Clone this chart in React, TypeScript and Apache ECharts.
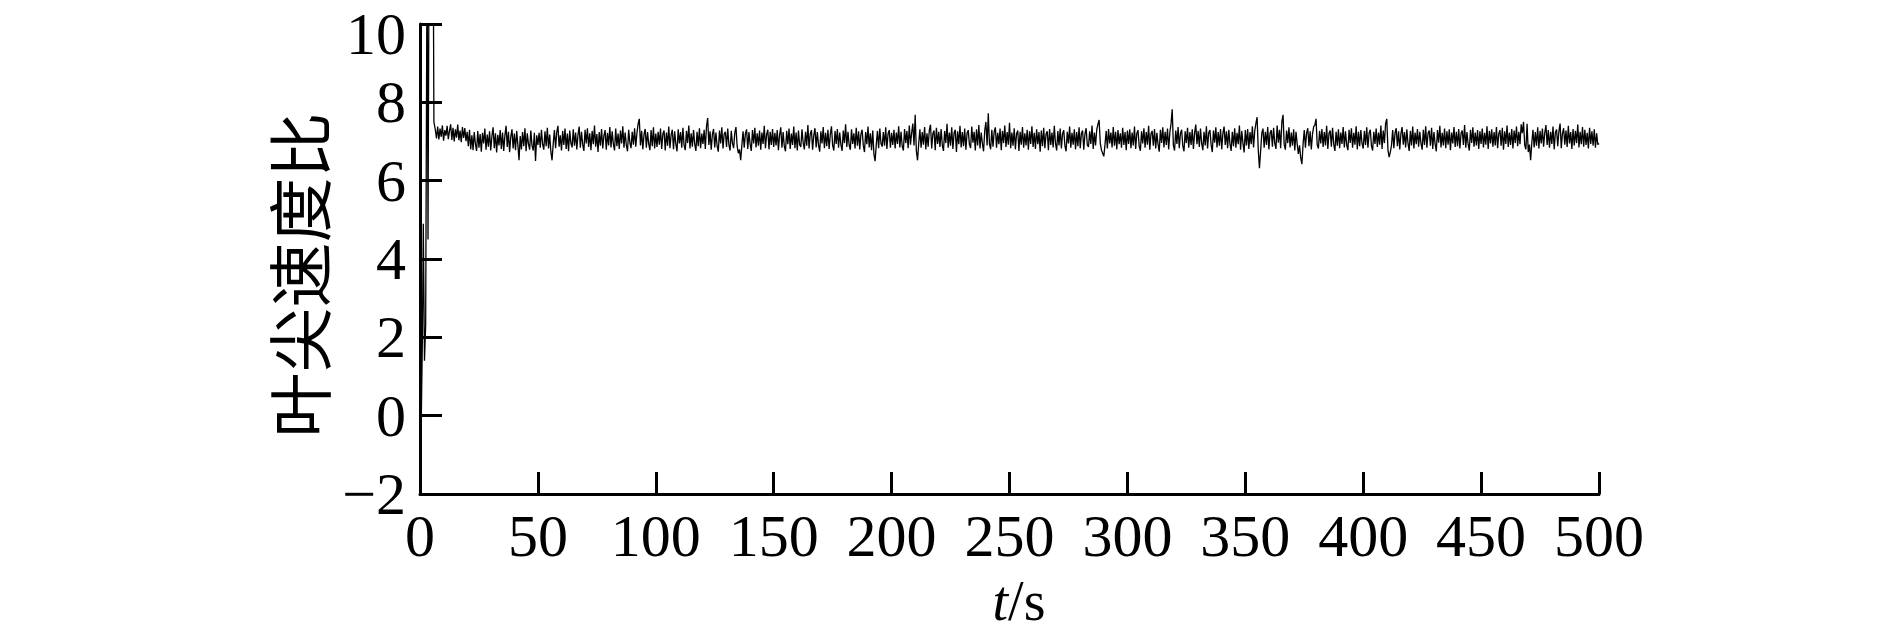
import React, { useEffect, useRef } from "react";
import * as echarts from "echarts";

// x-axis ticks and y-axis ticks
const xTicks = [0, 50, 100, 150, 200, 250, 300, 350, 400, 450, 500];
const yTicks = [-2, 0, 2, 4, 6, 8, 10];

// start-up transient (time in s, tip speed ratio)
const transientT = [0, 0.5, 1.0, 1.4, 1.9, 2.4, 3.0, 3.4, 3.9, 5.6, 5.9];
const transientV = [0.0, -0.3, 1.9, 4.9, 1.4, 2.3, 12.0, 4.5, 13.0, 12.0, 7.5];

// steady part, sampled every 0.5 s starting at 6.5 s
const steadyStart = 6.5;
const steadyStep = 0.5;
const seg0to50 = [
  7.3, 7.08, 7.38, 7.05, 7.33, 7.12, 7.41, 7.02, 7.29, 7.15, 7.4, 7.06, 7.27, 7.44, 7.04, 7.35, 7.0, 7.31, 7.1, 7.43, 7.03, 7.28, 6.98, 7.37, 7.09, 7.34, 7.01,
  7.25, 6.88, 7.3, 6.8, 7.16, 6.78, 7.24, 6.93, 6.76, 7.27, 6.84, 7.19, 6.74, 7.22, 6.95, 7.33, 6.79, 7.18, 6.87, 7.26,
  6.77, 7.14, 7.36, 6.83, 7.21, 6.72, 7.17, 6.9, 7.29, 6.81, 7.23, 6.76, 7.15, 7.4, 6.86, 7.25, 6.73, 7.12, 7.31, 6.82,
  7.2, 6.78, 7.27, 6.92, 6.52, 7.14, 6.8, 7.24, 6.88, 7.34, 6.75, 7.21, 6.94, 6.79, 7.28, 6.9, 6.77, 7.22, 6.5, 7.16,
  6.91,
];
const seg50to100 = [
  7.22, 6.84, 7.3, 6.93, 6.79, 7.26, 6.88, 7.35, 6.82, 7.18, 6.74, 6.52, 6.95, 7.29, 6.83, 7.24, 7.4, 6.87, 7.16, 6.77,
  7.27, 6.91, 7.33, 6.81, 7.2, 6.75, 7.28, 6.96, 6.85, 7.31, 6.89, 7.23, 6.8, 7.17, 7.38, 6.84, 7.25, 6.92, 6.76, 7.3,
  6.95, 7.34, 6.86, 7.21, 6.78, 7.27, 6.93, 7.41, 6.87, 7.19, 6.73, 7.24, 6.89, 7.32, 6.82, 7.15, 7.29, 6.79, 7.22, 6.9,
  7.37, 6.85, 7.26, 6.94, 6.77, 7.33, 6.88, 7.2, 6.81, 7.28, 6.95, 7.39, 6.84, 7.23, 6.91, 6.75, 7.3, 6.97, 6.83, 7.25,
  6.92, 7.34, 6.87, 7.21, 7.45, 7.58, 6.9, 7.27, 6.8, 7.18, 7.32, 6.84, 7.24, 6.94, 6.78, 7.29, 6.88, 7.36, 6.82, 7.2,
];
const seg100to150 = [
  6.86, 7.25, 6.92, 7.33, 6.81, 7.19, 7.28, 6.77, 7.23, 6.89, 7.38, 6.83, 7.17, 7.3, 6.8, 7.26, 6.93, 6.75, 7.31, 6.95,
  7.24, 6.84, 7.35, 6.9, 6.78, 7.27, 6.96, 7.41, 6.82, 7.21, 6.87, 7.29, 6.93, 6.76, 7.25, 6.88, 7.34, 6.83, 7.2, 6.94,
  7.3, 6.81, 7.39, 7.6, 6.91, 7.26, 6.79, 7.18, 7.32, 6.85, 7.23, 6.89, 6.74, 7.28, 6.95, 7.36, 6.82, 7.19, 7.25, 6.86,
  7.33, 6.92, 6.77, 7.27, 6.96, 6.83, 7.22, 7.37, 6.88, 6.7, 6.8, 6.52, 6.9, 7.26, 6.84, 7.2, 7.31, 6.81, 7.24, 6.93,
  6.76, 7.29, 6.95, 7.35, 6.85, 7.21, 6.89, 7.28, 6.79, 7.23, 6.94, 7.4, 6.83, 7.18, 7.3, 6.8, 7.25, 6.91, 7.32, 6.86,
];
const seg150to200 = [
  7.22, 6.9, 7.29, 6.78, 7.17, 7.36, 6.84, 7.24, 6.88, 6.75, 7.27, 6.93, 7.33, 6.81, 7.2, 6.91, 7.38, 6.83, 7.23, 6.77,
  7.28, 6.92, 6.86, 7.31, 6.97, 6.8, 7.25, 6.89, 7.42, 6.82, 7.19, 7.29, 6.79, 7.16, 7.34, 6.85, 7.24, 6.91, 6.74, 7.26,
  6.95, 7.37, 6.83, 7.22, 6.88, 7.3, 6.81, 7.18, 7.39, 6.9, 6.77, 7.27, 6.94, 7.32, 6.84, 7.23, 6.92, 6.76, 7.28, 6.96,
  7.44, 6.86, 7.25, 6.91, 6.79, 7.31, 6.94, 7.21, 6.82, 7.35, 6.89, 7.26, 6.8, 7.19, 7.3, 6.9, 6.73, 7.24, 6.93, 7.38,
  6.85, 7.21, 6.78, 7.28, 6.68, 6.5, 6.92, 7.27, 6.83, 7.33, 6.95, 6.87, 7.24, 6.89, 7.36, 6.81, 7.2, 7.29, 6.84, 7.22,
];
const seg200to250 = [
  6.91, 7.3, 6.82, 7.23, 6.94, 7.39, 6.85, 7.25, 6.88, 6.77, 7.32, 6.96, 7.27, 6.83, 7.41, 6.92, 7.22, 7.46, 6.9, 7.68,
  6.76, 6.52, 6.95, 7.31, 6.84, 7.24, 6.92, 7.37, 6.8, 7.21, 6.87, 7.29, 7.43, 6.82, 7.2, 7.28, 6.78, 7.35, 6.94, 7.25,
  6.86, 7.32, 6.91, 6.76, 7.27, 6.96, 7.45, 6.84, 7.23, 6.89, 7.36, 6.81, 7.22, 7.3, 6.73, 7.26, 6.93, 7.4, 6.85, 7.24,
  6.88, 7.33, 6.79, 7.21, 7.29, 6.92, 6.83, 7.38, 6.97, 7.25, 6.77, 7.31, 6.9, 7.42, 6.82, 7.23, 6.95, 6.75, 7.28, 7.5,
  6.9, 7.72, 6.94, 6.8, 7.3, 6.87, 7.25, 7.36, 6.84, 7.22, 6.93, 7.33, 6.78, 7.27, 6.96, 7.41, 6.86, 7.24, 6.92, 7.48,
];
const seg250to300 = [
  6.83, 7.23, 6.89, 7.34, 6.8, 7.2, 7.28, 6.76, 7.25, 6.92, 7.37, 6.84, 7.21, 6.9, 7.3, 6.79, 7.26, 6.94, 7.39, 6.86,
  7.22, 6.81, 7.31, 6.93, 7.24, 6.74, 7.28, 6.88, 7.35, 6.83, 7.19, 7.26, 6.78, 7.32, 6.91, 7.23, 6.85, 7.4, 6.95, 6.77,
  7.27, 6.9, 7.33, 6.82, 7.2, 7.29, 6.89, 6.75, 7.25, 6.95, 7.38, 6.84, 7.22, 6.92, 7.31, 6.8, 7.24, 6.88, 7.36, 6.83,
  7.21, 7.28, 6.79, 7.19, 7.34, 6.91, 6.86, 7.26, 6.94, 7.41, 6.81, 7.23, 6.9, 7.3, 7.44, 7.55, 6.96, 6.78, 6.7, 6.62,
  6.92, 7.27, 6.82, 7.32, 6.95, 7.23, 6.85, 7.37, 6.89, 7.25, 6.8, 7.29, 6.93, 7.21, 6.84, 7.35, 6.91, 7.24, 6.78, 7.28,
];
const seg300to350 = [
  6.94, 7.31, 6.83, 7.23, 6.9, 7.38, 6.81, 7.21, 7.29, 6.88, 6.76, 7.26, 6.95, 7.34, 6.84, 7.24, 6.92, 7.4, 6.79, 7.2,
  7.27, 6.89, 7.32, 6.82, 7.22, 6.93, 6.74, 7.3, 6.96, 7.36, 6.85, 7.25, 6.91, 7.33, 6.8, 7.23, 7.45, 7.82, 6.9, 6.77,
  7.28, 6.94, 7.37, 6.83, 7.21, 7.3, 6.88, 6.75, 7.26, 6.96, 7.35, 6.84, 7.24, 6.91, 7.31, 6.81, 7.22, 7.43, 6.93, 7.27,
  6.86, 7.33, 6.95, 6.78, 7.25, 6.9, 7.39, 6.82, 7.23, 7.29, 6.92, 6.73, 7.28, 6.97, 7.36, 6.85, 7.24, 6.89, 7.32, 6.8,
  7.21, 7.38, 6.91, 7.26, 6.83, 7.3, 6.94, 6.76, 7.25, 6.88, 7.34, 6.84, 7.22, 6.93, 7.41, 6.79, 7.27, 6.96, 6.72, 7.29,
];
const seg350to400 = [
  6.9, 7.32, 6.81, 7.24, 6.93, 7.39, 6.85, 7.27, 7.46, 7.62, 6.78, 6.32, 6.76, 7.21, 7.33, 6.84, 7.25, 6.91, 7.37, 6.8,
  7.22, 7.29, 6.87, 7.35, 6.95, 6.81, 7.41, 6.97, 7.3, 6.83, 7.5, 7.68, 6.92, 6.79, 7.28, 6.96, 7.36, 6.85, 7.23, 6.89,
  7.31, 6.77, 7.25, 6.94, 6.68, 6.9, 6.58, 6.42, 6.93, 7.29, 6.84, 7.22, 7.34, 6.88, 7.26, 6.8, 7.19, 7.38, 7.42, 7.58,
  6.91, 6.82, 7.27, 6.95, 7.32, 6.86, 7.24, 6.9, 7.4, 6.81, 7.21, 7.28, 6.87, 7.35, 6.93, 6.76, 7.25, 6.89, 7.31, 6.83,
  7.23, 6.94, 7.37, 6.85, 7.26, 6.91, 6.78, 7.3, 6.96, 7.34, 6.84, 7.22, 6.92, 7.39, 6.8, 7.25, 6.88, 7.29, 6.95, 6.82,
];
const seg400to450 = [
  7.27, 6.91, 7.36, 6.84, 7.21, 7.3, 6.89, 6.77, 7.25, 6.94, 7.33, 6.86, 7.23, 6.92, 7.41, 6.81, 7.28, 6.96, 7.46, 7.58,
  6.78, 6.6, 6.73, 6.9, 7.29, 6.83, 7.22, 7.34, 6.88, 7.26, 6.8, 7.2, 7.37, 6.92, 7.24, 6.85, 7.31, 6.95, 6.76, 7.27,
  6.9, 7.38, 6.82, 7.23, 6.93, 7.32, 6.87, 7.25, 6.96, 6.79, 7.3, 6.91, 7.39, 6.84, 7.21, 7.28, 6.89, 7.35, 6.81, 7.24,
  6.94, 6.75, 7.29, 6.97, 7.4, 6.85, 7.22, 6.9, 7.33, 6.83, 7.26, 6.92, 7.31, 6.78, 7.23, 6.95, 7.37, 6.86, 7.25, 6.88,
  7.32, 6.82, 7.21, 7.28, 6.91, 7.42, 6.84, 7.24, 6.93, 6.77, 7.3, 6.96, 7.36, 6.87, 7.23, 6.9, 7.29, 6.81, 7.26, 6.94,
];
const seg450to500 = [
  7.33, 6.85, 7.22, 6.92, 7.39, 6.81, 7.27, 6.95, 7.31, 6.87, 7.24, 6.9, 7.37, 6.83, 7.2, 7.29, 6.89, 7.35, 6.79, 7.26,
  6.94, 7.41, 6.86, 7.23, 6.91, 7.32, 6.82, 7.28, 6.96, 7.38, 6.88, 7.25, 6.93, 7.44, 7.21, 7.5, 6.9, 6.8, 7.45, 6.73,
  6.92, 6.52, 6.96, 7.3, 6.85, 7.24, 6.89, 7.36, 6.82, 7.27, 6.95, 7.33, 6.87, 7.22, 7.42, 6.91, 7.29, 6.84, 7.25, 6.94,
  7.38, 6.8, 7.23, 7.31, 6.88, 7.26, 7.46, 6.83, 7.2, 7.34, 6.92, 7.28, 6.86, 7.4, 6.95, 7.24, 6.81, 7.32, 6.9, 7.27,
  6.96, 7.43, 6.85, 7.25, 6.93, 7.37, 6.87, 7.3, 6.91, 7.22, 6.82, 7.35, 6.94, 7.26, 6.89, 7.31, 6.84, 7.21, 6.92, 6.95,
];

const yAxisTitle = "叶尖速度比";
const xAxisTitleItalic = "t";
const xAxisTitleRest = "/s";

const SERIF = '"Liberation Serif", "Times New Roman", Times, serif';

export default function App() {
  const ref = useRef<HTMLDivElement>(null);

  useEffect(() => {
    if (!ref.current) return;
    const chart = echarts.init(ref.current, undefined, { renderer: "svg" });

    const steady = [
      ...seg0to50,
      ...seg50to100,
      ...seg100to150,
      ...seg150to200,
      ...seg200to250,
      ...seg250to300,
      ...seg300to350,
      ...seg350to400,
      ...seg400to450,
      ...seg450to500,
    ];
    const data: [number, number][] = [];
    transientT.forEach((t, i) => data.push([t, transientV[i]]));
    steady.forEach((v, i) => data.push([steadyStart + i * steadyStep, v]));

    const axisLineStyle = { color: "#000", width: 3 };
    const yMax = yTicks[yTicks.length - 1];

    chart.setOption({
      animation: false,
      backgroundColor: "#fff",
      grid: {
        left: 420,
        top: 24,
        right: 290,
        bottom: 137,
        containLabel: false,
        outerBoundsMode: "none",
      },
      xAxis: {
        type: "value",
        min: xTicks[0],
        max: xTicks[xTicks.length - 1],
        interval: 50,
        axisLine: { show: true, onZero: false, lineStyle: axisLineStyle },
        axisTick: { show: true, inside: true, length: 22, lineStyle: axisLineStyle },
        axisLabel: {
          color: "#000",
          fontSize: 60,
          fontFamily: SERIF,
          margin: 12,
        },
        splitLine: { show: false },
      },
      yAxis: {
        type: "value",
        min: yTicks[0],
        max: yMax,
        interval: 2,
        axisLine: { show: true, onZero: false, lineStyle: axisLineStyle },
        axisTick: { show: true, inside: true, length: 22, lineStyle: axisLineStyle },
        axisLabel: {
          color: "#000",
          fontSize: 60,
          lineHeight: 42,
          fontFamily: SERIF,
          margin: 14,
          formatter: (v: number) =>
            v === yMax
              ? "{top|" + v + "}"
              : v < 0
              ? "\u2212" + Math.abs(v)
              : String(v),
          rich: {
            top: {
              color: "#000",
              fontSize: 60,
              lineHeight: 42,
              fontFamily: SERIF,
              padding: [20, 0, 0, 0],
            },
          },
        },
        splitLine: { show: false },
      },
      graphic: [
        {
          type: "text",
          x: 297,
          y: 275,
          rotation: Math.PI / 2,
          style: {
            text: yAxisTitle,
            fontSize: 65,
            fontFamily: '"Noto Sans CJK SC", sans-serif',
            fill: "#000",
            align: "center",
            verticalAlign: "middle",
          },
        },
        {
          type: "text",
          x: 1019,
          y: 629,
          style: {
            text: "{i|" + xAxisTitleItalic + "}{n|" + xAxisTitleRest + "}",
            align: "center",
            verticalAlign: "bottom",
            rich: {
              i: { fontSize: 56, fontFamily: SERIF, fontStyle: "italic", fill: "#000" },
              n: { fontSize: 56, fontFamily: SERIF, fill: "#000" },
            },
          },
        },
      ],
      series: [
        {
          type: "line",
          data,
          symbol: "none",
          showSymbol: false,
          clip: true,
          lineStyle: { color: "#000", width: 1.3 },
        },
      ],
    });

    return () => chart.dispose();
  }, []);

  return (
    <div
      ref={ref}
      style={{ position: "absolute", left: 0, top: 0, width: 1889, height: 631, background: "#fff" }}
    />
  );
}
